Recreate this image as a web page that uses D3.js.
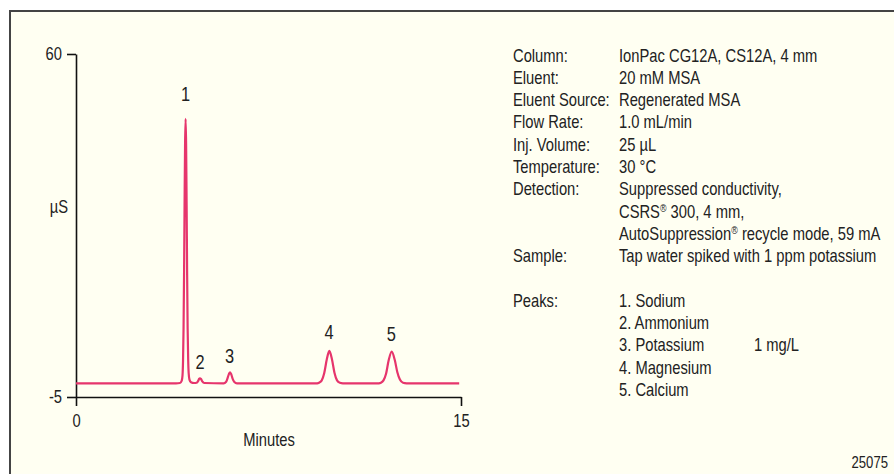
<!DOCTYPE html>
<html>
<head>
<meta charset="utf-8">
<script src="https://cdn.jsdelivr.net/npm/d3@7"></script>
<style>
	body { margin: 0; background: #fff; }
	svg text { font-family: "Liberation Sans", Arial, sans-serif; fill: #222; }
	.axis path, .axis line { stroke: #111; stroke-width: 1.6; }
</style>
</head>
<body>
<div id="chart"></div>
<script>

// chromatogram trace, [minutes, µS]
var trace = [
	[0,-2.4],[3.9,-2.4],[4.05,-2.35],[4.12,-1.9],[4.15,-0.9],[4.17,1.8],[4.19,7.9],[4.21,18.2],[4.23,31.4],[4.25,43.0],[4.27,47.7],
	[4.29,43.0],[4.31,31.4],[4.33,18.2],[4.35,7.9],[4.37,2.2],[4.39,-0.5],[4.42,-1.7],[4.48,-2.2],[4.60,-2.35],
	[4.70,-2.3],[4.76,-1.95],[4.80,-1.55],[4.83,-1.45],[4.87,-1.6],[4.92,-2.05],[5.0,-2.35],
	[5.75,-2.4],[5.85,-2.1],[5.92,-1.2],[5.97,-0.5],[6.0,-0.31],[6.04,-0.6],[6.10,-1.5],[6.17,-2.15],[6.27,-2.4],
	[9.40,-2.4],[9.47,-2.3],[9.57,-1.9],[9.67,-0.5],[9.77,2.1],[9.87,3.73],[9.97,2.2],[10.07,-0.4],[10.17,-1.85],[10.28,-2.3],[10.40,-2.4],
	[11.80,-2.4],[11.88,-2.3],[11.98,-1.85],[12.08,-0.6],[12.18,1.9],[12.30,3.6],[12.42,2.0],[12.52,-0.3],[12.62,-1.7],[12.74,-2.3],[12.88,-2.4],
	[14.93,-2.4]
];

// peak labels
var peakNums = ["1","2","3","4","5"];
var peakTimes = [4.27, 4.83, 5.98, 9.86, 12.28];
var peakLabelVals = [51.0, 0.3, 1.45, 6.0, 5.6];

// axes
var xTicks = [0, 15];
var yTicks = [-5, 60];

// conditions text
var condLabels = ["Column:", "Eluent:", "Eluent Source:", "Flow Rate:", "Inj. Volume:", "Temperature:", "Detection:", "", "", "Sample:", "", "Peaks:", "", "", "", ""];
var condValues = ["IonPac CG12A, CS12A, 4 mm", "20 mM MSA", "Regenerated MSA", "1.0 mL/min", "25 µL", "30 °C",
	"Suppressed conductivity,", "CSRS® 300, 4 mm,", "AutoSuppression® recycle mode, 59 mA",
	"Tap water spiked with 1 ppm potassium", "",
	"1. Sodium", "2. Ammonium", "3. Potassium", "4. Magnesium", "5. Calcium"];
var condAmounts = ["", "", "", "", "", "", "", "", "", "", "", "", "", "1 mg/L", "", ""];

var W = 894, H = 474;
var SX = 0.82;	// condensed look

var svg = d3.select("#chart").append("svg")
	.attr("width", W).attr("height", H);

// panel
svg.append("rect").attr("x", 10).attr("y", 11).attr("width", W).attr("height", H)
	.attr("fill", "#fffff2");
svg.append("line").attr("x1", 10).attr("y1", 11).attr("x2", W).attr("y2", 11)
	.attr("stroke", "#444").attr("stroke-width", 2);
svg.append("line").attr("x1", 10).attr("y1", 10).attr("x2", 10).attr("y2", H)
	.attr("stroke", "#444").attr("stroke-width", 2);

// text helper: condensed text, ® set small and raised
function addText(parent, str, x, y, size, anchor){
	var t = parent.append("text")
		.attr("transform", "translate(" + x + "," + y + ") scale(" + SX + ",1)")
		.attr("text-anchor", anchor || "start")
		.style("font-size", size + "px");
	var parts = str.split("®");
	parts.forEach(function(p, i){
		t.append("tspan").text(p);
		if (i < parts.length - 1)
			t.append("tspan").text("®")
				.style("font-size", (size * 0.6) + "px")
				.style("baseline-shift", "55%");
	});
	return t;
}

var xScale = d3.scaleLinear().domain([0, 15]).range([76, 461]);
var yScale = d3.scaleLinear().domain([-5, 60]).range([397, 54]);

// y axis
svg.append("g").attr("class", "axis")
	.attr("transform", "translate(76,0)")
	.call(d3.axisLeft(yScale).tickValues(yTicks).tickSize(9).tickSizeOuter(0).tickPadding(5)
		.tickFormat(function(d){ return String(d); }));

// x axis
svg.append("g").attr("class", "axis")
	.attr("transform", "translate(0,397)")
	.call(d3.axisBottom(xScale).tickValues(xTicks).tickSize(9).tickSizeOuter(0).tickPadding(8)
		.tickFormat(function(d){ return String(d); }));

svg.selectAll(".axis text")
	.attr("font-family", null).attr("font-size", null)
	.style("font-size", "18px").attr("fill", "#222")
	.attr("x", function(){ return (+d3.select(this).attr("x") || 0) / SX; })
	.attr("transform", "scale(" + SX + ",1)");

// axis titles
addText(svg, "Minutes", 269, 445.5, 18, "middle");
addText(svg, "µS", 59, 213, 18, "middle");

// trace
var line = d3.line()
	.x(function(d){ return xScale(d[0]); })
	.y(function(d){ return yScale(d[1]); })
	.curve(d3.curveMonotoneX);

svg.append("path").datum(trace)
	.attr("d", line)
	.attr("fill", "none")
	.attr("stroke", "#e6356c")
	.attr("stroke-width", 2.2)
	.attr("stroke-linejoin", "round");

// peak numbers
peakNums.forEach(function(d, i){
	addText(svg, d, xScale(peakTimes[i]), yScale(peakLabelVals[i]), 20, "middle");
});

// conditions block
var rowH = 22.3, top0 = 61.5;
condLabels.forEach(function(d, i){ if (d) addText(svg, d, 513, top0 + i * rowH, 18); });
condValues.forEach(function(d, i){ if (d) addText(svg, d, 619, top0 + i * rowH, 18); });
condAmounts.forEach(function(d, i){ if (d) addText(svg, d, 754, top0 + i * rowH, 18); });

addText(svg, "25075", 888, 467.5, 16, "end");

</script>
</body>
</html>
